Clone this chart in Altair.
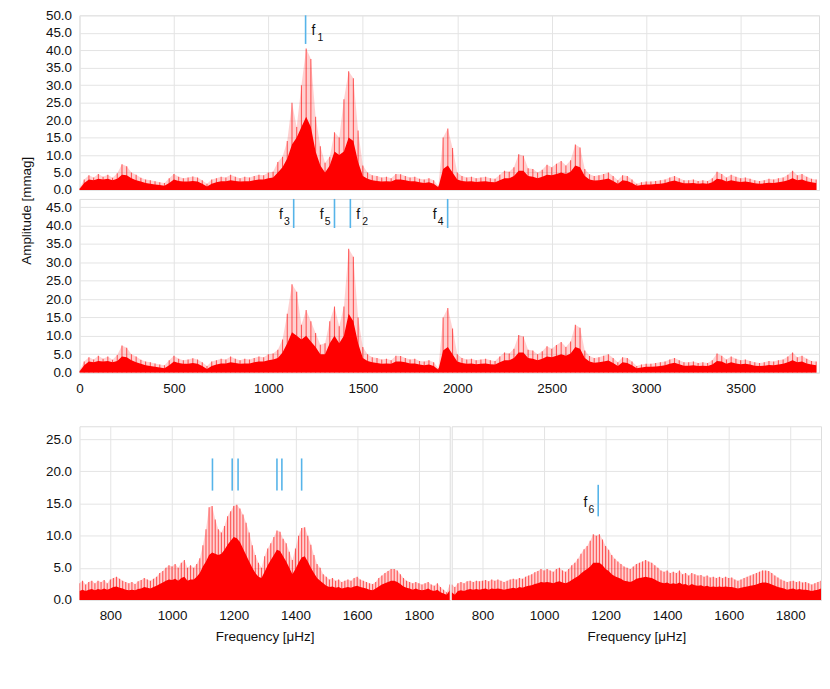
import altair as alt
import pandas as pd

FONT = "Liberation Sans"
RED = "#ff0000"
BLUE = "#56b4e9"

# ---------------- data: full spectrum (0-3900 uHz, 25 uHz step) ----------------
top_freq = list(range(0, 3901, 25))
top_peak = [
    0.5, 3.0, 4.2, 3.6, 4.6, 3.8, 4.4, 3.5,
    4.8, 7.4, 6.8, 5.0, 4.4, 3.5, 3.0, 2.8,
    2.5, 2.2, 2.0, 3.4, 4.6, 3.8, 3.4, 3.6,
    3.9, 3.6, 2.8, 1.8, 3.0, 3.4, 3.8, 3.6,
    4.4, 3.8, 3.4, 3.8, 3.6, 4.0, 4.4, 4.2,
    5.0, 5.2, 8.0, 9.5, 14.0, 25.0, 18.0, 30.0,
    40.5, 37.5, 21.0, 12.5, 7.8, 9.5, 16.5, 15.0,
    26.0, 34.0, 32.0, 17.0, 7.0, 5.0, 4.2, 4.0,
    3.6, 3.8, 3.4, 4.6, 4.5, 4.0, 3.6, 3.8,
    3.2, 3.0, 3.4, 2.8, 1.2, 15.0, 17.6, 12.0,
    5.0, 4.0, 3.6, 3.8, 3.4, 3.6, 3.8, 3.4,
    3.2, 4.4, 5.5, 5.2, 6.5, 10.2, 9.8, 6.2,
    6.0, 5.0, 5.8, 7.2, 6.5, 7.5, 8.3, 7.0,
    8.5, 13.0, 12.2, 6.0, 4.5, 4.0, 4.2, 4.6,
    5.0, 4.0, 2.8, 4.2, 4.0, 3.0, 1.8, 2.2,
    2.4, 2.4, 2.6, 2.8, 3.0, 3.6, 4.0, 3.4,
    2.8, 2.8, 3.0, 2.6, 2.8, 2.6, 3.4, 5.2,
    4.6, 3.6, 4.4, 3.8, 3.4, 3.6, 3.2, 2.8,
    2.6, 2.8, 3.2, 3.0, 3.4, 3.6, 4.4, 5.5,
    4.2, 4.6, 3.8, 3.2, 3.0,
]
top_body = [
    0.3, 2.0, 3.0, 2.8, 3.2, 3.0, 3.2, 2.8,
    3.2, 4.4, 4.2, 3.4, 2.8, 2.4, 2.0, 1.8,
    1.6, 1.4, 1.2, 2.0, 3.0, 2.6, 2.4, 2.4,
    2.6, 2.4, 1.8, 1.0, 1.8, 2.2, 2.5, 2.5,
    2.8, 2.6, 2.4, 2.5, 2.5, 2.8, 3.0, 3.0,
    3.4, 3.6, 5.0, 6.5, 9.0, 13.0, 15.0, 18.0,
    21.0, 18.0, 11.0, 7.0, 5.0, 7.0, 11.0, 10.0,
    11.0, 15.0, 14.0, 8.0, 4.0, 3.2, 2.8, 2.6,
    2.4, 2.5, 2.4, 3.0, 3.0, 2.8, 2.5, 2.5,
    2.2, 2.0, 2.2, 1.8, 0.8, 6.0, 7.0, 5.0,
    3.0, 2.6, 2.4, 2.5, 2.3, 2.4, 2.5, 2.3,
    2.2, 2.8, 3.4, 3.4, 4.0, 5.5, 5.5, 4.0,
    3.8, 3.4, 3.8, 4.4, 4.2, 4.6, 5.0, 4.6,
    5.2, 7.0, 6.5, 4.0, 3.0, 2.7, 2.8, 3.0,
    3.3, 2.6, 1.8, 2.8, 2.6, 2.0, 1.2, 1.4,
    1.6, 1.6, 1.7, 1.8, 2.0, 2.4, 2.7, 2.3,
    1.9, 1.9, 2.0, 1.8, 1.9, 1.8, 2.2, 3.2,
    3.0, 2.4, 2.8, 2.5, 2.3, 2.4, 2.2, 1.9,
    1.8, 1.9, 2.1, 2.0, 2.2, 2.4, 2.8, 3.4,
    2.8, 3.0, 2.5, 2.2, 2.0,
]
# prewhitened spectrum (f1 removed): differs from the top one between 1050 and 1500 uHz
mid_peak_section = [6.2, 9.0, 16.0, 24.0, 22.0, 13.0, 17.0, 14.0, 10.8, 7.6,
                    8.0, 14.0, 18.0, 12.6, 18.0, 33.7, 31.5, 15.0, 7.0]
mid_body_section = [4.0, 5.5, 8.0, 11.0, 10.0, 9.0, 10.0, 8.5, 7.0, 5.0,
                    5.0, 8.0, 10.0, 8.0, 10.0, 16.0, 14.0, 8.0, 4.0]
mid_peak = top_peak[:42] + mid_peak_section + top_peak[61:]
mid_body = top_body[:42] + mid_body_section + top_body[61:]

# ---------------- data: zoomed spectra (700-1900 uHz, 10 uHz step) ----------------
zoom_freq = list(range(700, 1901, 10))
left_peak = [
    2.6, 3.0, 2.4, 2.8, 3.0, 2.6, 3.0, 2.8, 3.1, 2.6,
    3.2, 3.4, 3.6, 3.3, 3.0, 2.8, 2.6, 2.8, 2.5, 2.9,
    3.1, 3.4, 3.2, 3.0, 3.3, 3.6, 4.2, 4.5, 5.0, 5.4,
    5.2, 5.6, 5.0, 5.8, 6.2, 5.0, 5.4, 5.0, 5.6, 6.5,
    8.5, 11.0, 14.4, 14.6, 12.5, 11.0, 10.5, 11.5, 13.0, 13.8,
    14.6, 14.8, 14.2, 13.3, 12.0, 10.5, 8.5, 7.0, 5.8, 5.0,
    6.8, 8.0, 8.8, 9.8, 10.8, 10.6, 9.5, 8.8, 7.5, 6.2,
    8.0, 10.0, 11.2, 11.3, 10.0, 8.6, 7.0, 5.6, 5.0, 4.0,
    3.6, 3.2, 3.4, 3.0, 3.2, 2.8, 3.0, 3.2, 3.0, 3.4,
    3.6, 3.2, 3.0, 2.8, 2.6, 2.5, 2.8, 3.4, 3.8, 4.2,
    4.5, 4.8, 4.8, 4.6, 4.0, 3.4, 3.0, 2.8, 2.6, 2.8,
    2.6, 2.4, 2.6, 2.8, 2.4, 2.2, 2.6, 2.0, 1.6, 1.2, 2.4,
]
left_body = [
    1.4, 1.6, 1.4, 1.6, 1.7, 1.5, 1.7, 1.6, 1.8, 1.6,
    1.8, 2.0, 2.1, 1.9, 1.8, 1.6, 1.5, 1.6, 1.5, 1.7,
    1.8, 2.0, 1.9, 1.8, 2.0, 2.2, 2.5, 2.7, 3.0, 3.2,
    3.1, 3.3, 3.0, 3.4, 3.6, 3.0, 3.2, 3.2, 3.6, 4.2,
    5.2, 6.0, 7.0, 7.4, 7.2, 7.0, 7.2, 7.8, 8.6, 9.2,
    9.8, 9.6, 9.0, 8.0, 7.0, 6.0, 5.0, 4.2, 3.6, 3.4,
    4.4, 5.4, 6.2, 7.0, 7.8, 7.6, 6.8, 6.0, 5.0, 4.0,
    4.8, 5.8, 6.6, 6.8, 6.0, 5.0, 4.2, 3.4, 3.0, 2.6,
    2.2, 2.0, 2.1, 1.9, 2.0, 1.8, 1.9, 2.0, 1.9, 2.1,
    2.2, 2.0, 1.9, 1.8, 1.6, 1.5, 1.8, 2.1, 2.4, 2.6,
    2.8, 3.0, 3.0, 2.8, 2.5, 2.1, 1.9, 1.8, 1.6, 1.8,
    1.6, 1.5, 1.6, 1.8, 1.5, 1.4, 1.6, 1.2, 1.0, 0.8, 1.5,
]
right_peak = [
    2.4, 2.0, 2.6, 2.8, 2.6, 2.9, 3.0, 2.8, 3.0, 2.9,
    3.0, 3.1, 2.9, 3.2, 3.0, 3.2, 3.0, 2.8, 3.0, 3.2,
    3.3, 3.2, 3.4, 3.3, 3.6, 3.8, 4.0, 4.3, 4.5, 4.8,
    4.6, 4.8, 4.6, 4.4, 4.8, 5.0, 4.6, 4.4, 4.8, 5.4,
    5.8, 6.4, 7.2, 7.9, 8.4, 9.2, 10.2, 10.0, 10.2, 9.4,
    8.4, 7.8, 7.0, 6.4, 6.0, 5.6, 5.2, 5.0, 4.8, 5.2,
    5.6, 5.8, 6.0, 6.2, 6.0, 5.8, 5.4, 5.0, 4.6, 4.4,
    4.6, 4.2, 4.4, 4.2, 4.6, 4.0, 4.2, 3.8, 4.2, 4.0,
    3.8, 3.9, 3.6, 3.8, 3.5, 3.6, 3.4, 3.6, 3.4, 3.6,
    3.4, 3.5, 3.2, 3.0, 3.2, 3.4, 3.6, 3.8, 4.0, 4.2,
    4.4, 4.6, 4.6, 4.5, 4.2, 3.8, 3.5, 3.2, 3.0, 2.8,
    2.9, 3.0, 2.8, 2.9, 2.7, 2.8, 2.6, 2.4, 2.6, 2.8, 3.0,
]
right_body = [
    1.2, 0.8, 1.4, 1.5, 1.4, 1.6, 1.7, 1.6, 1.7, 1.6,
    1.7, 1.8, 1.6, 1.8, 1.7, 1.8, 1.7, 1.6, 1.7, 1.8,
    1.9, 1.8, 2.0, 1.9, 2.1, 2.2, 2.3, 2.5, 2.6, 2.8,
    2.7, 2.8, 2.7, 2.6, 2.8, 2.9, 2.7, 2.6, 2.8, 3.1,
    3.4, 3.7, 4.1, 4.5, 4.8, 5.2, 5.8, 5.8, 5.8, 5.4,
    4.8, 4.5, 4.0, 3.7, 3.5, 3.3, 3.0, 2.9, 2.8, 3.0,
    3.3, 3.4, 3.5, 3.6, 3.5, 3.4, 3.2, 2.9, 2.7, 2.6,
    2.7, 2.5, 2.6, 2.5, 2.7, 2.4, 2.5, 2.2, 2.5, 2.3,
    2.2, 2.3, 2.1, 2.2, 2.0, 2.1, 2.0, 2.1, 2.0, 2.1,
    2.0, 2.0, 1.9, 1.8, 1.9, 2.0, 2.1, 2.2, 2.3, 2.4,
    2.6, 2.7, 2.7, 2.6, 2.4, 2.2, 2.0, 1.9, 1.8, 1.6,
    1.7, 1.8, 1.6, 1.7, 1.6, 1.6, 1.5, 1.4, 1.5, 1.6, 1.8,
]

# ---------------- data: frequency markers ----------------
top_mark_freq = [1197]
top_mark_sub = ["1"]
top_mark_side = ["right"]
top_mark_lo, top_mark_hi = [41.8], [50.0]

mid_mark_freq = [1134, 1350, 1434, 1949]
mid_mark_sub = ["3", "5", "2", "4"]
mid_mark_side = ["left", "left", "right", "left"]
mid_mark_lo, mid_mark_hi = [39.3] * 4, [47.2] * 4

left_mark_freq = [1131, 1195, 1214, 1340, 1356, 1420]
left_mark_lo, left_mark_hi = [17.0] * 6, [22.0] * 6

right_mark_freq = [1176]
right_mark_sub = ["6"]
right_mark_side = ["left"]
right_mark_lo, right_mark_hi = [13.0], [17.9]

LABEL_SIZE = 13.5


def spec_df(freq, peak, body):
    assert len(freq) == len(peak) == len(body), (len(freq), len(peak), len(body))
    return pd.DataFrame({"freq": freq, "peak": peak, "body": body})


def mark_df(freq, lo, hi, sub=None, side=None):
    d = pd.DataFrame({"freq": freq, "lo": lo, "hi": hi})
    d["sub"] = sub if sub is not None else [""] * len(freq)
    d["side"] = side if side is not None else ["none"] * len(freq)
    return d


def panel(spec, marks, xdom, ydom, xvals, yvals, w, h, xlabels, ylabels, xtitle=None):
    xaxis = alt.Axis(values=xvals, labels=xlabels, ticks=False, domain=False,
                     grid=True, labelPadding=9, title=xtitle, format="d",
                     labelFont=FONT, labelFontSize=LABEL_SIZE, labelColor="#111",
                     titleFont=FONT, titleColor="#111",
                     titleFontWeight="normal", titleFontSize=LABEL_SIZE,
                     titlePadding=7, labelFlush=False, labelOverlap=False,
                     gridColor="#e4e4e4")
    yaxis = alt.Axis(values=yvals, labels=ylabels, ticks=False, domain=False,
                     grid=True, format=".1f", labelPadding=8, labelOverlap=False,
                     labelFont=FONT, labelFontSize=LABEL_SIZE, labelColor="#111",
                     title=None, gridColor="#e4e4e4", labelFlush=False)
    xs = alt.Scale(domain=xdom, nice=False, zero=False)
    ys = alt.Scale(domain=ydom, nice=False)

    def X(f):
        return alt.X(f, scale=xs, axis=xaxis)

    def Y(f):
        return alt.Y(f, scale=ys, axis=yaxis)

    base = alt.Chart(spec)
    haze = base.mark_area(color=RED, opacity=0.18, clip=True).encode(
        x=X("freq:Q"), y=Y("peak:Q"))
    spikes = base.mark_rule(color=RED, strokeWidth=1.1, opacity=0.6, clip=True).encode(
        x=X("freq:Q"), y=Y("peak:Q"), y2=alt.value(h))
    body = base.mark_area(color=RED, opacity=1, clip=True).encode(
        x=X("freq:Q"), y=Y("body:Q"))

    mb = alt.Chart(marks)
    rules = mb.mark_rule(color=BLUE, strokeWidth=1.6).encode(
        x=X("freq:Q"), y=Y("lo:Q"), y2="hi:Q")
    layers = [haze, spikes, body, rules]
    for side, fdx, sdx, al in [("left", -11, -4, "right"), ("right", 6, 12, "left")]:
        fl = mb.transform_filter(alt.datum.side == side)
        layers.append(fl.mark_text(text="f", font=FONT, fontSize=14, dx=fdx, dy=-13,
                                   align=al, baseline="middle", color="#111").encode(
            x=X("freq:Q"), y=Y("lo:Q")))
        layers.append(fl.mark_text(font=FONT, fontSize=10.5, dx=sdx, dy=-6,
                                   align=al, baseline="middle", color="#111").encode(
            x=X("freq:Q"), y=Y("lo:Q"), text="sub:N"))
    return alt.layer(*layers).properties(width=w, height=h)


top_x = list(range(0, 3901, 500))
zoom_x = list(range(800, 1801, 200))

top = panel(spec_df(top_freq, top_peak, top_body),
            mark_df(top_mark_freq, top_mark_lo, top_mark_hi, top_mark_sub, top_mark_side),
            [0, 3915], [0, 50], top_x, [i * 5 for i in range(11)], 745, 176,
            False, True)
mid = panel(spec_df(top_freq, mid_peak, mid_body),
            mark_df(mid_mark_freq, mid_mark_lo, mid_mark_hi, mid_mark_sub, mid_mark_side),
            [0, 3915], [0, 47.2], top_x, [i * 5 for i in range(10)], 745, 175,
            True, True)
left = panel(spec_df(zoom_freq, left_peak, left_body),
             mark_df(left_mark_freq, left_mark_lo, left_mark_hi),
             [700, 1900], [0, 27], zoom_x, [i * 5 for i in range(6)], 373, 175,
             True, True, xtitle="Frequency [μHz]")
right = panel(spec_df(zoom_freq, right_peak, right_body),
              mark_df(right_mark_freq, right_mark_lo, right_mark_hi, right_mark_sub, right_mark_side),
              [700, 1900], [0, 27], zoom_x, [i * 5 for i in range(6)], 372, 175,
              True, False, xtitle="Frequency [μHz]")

# rotated title: its dx runs along the (rotated) text, i.e. vertically on screen
chart = alt.vconcat(
    alt.vconcat(top, mid, spacing=0),
    alt.hconcat(left, right, spacing=0),
    spacing=30,
).properties(
    title=alt.TitleParams(
        "Amplitude [mmag]", orient="left", anchor="end", dx=-150, offset=12,
        font=FONT, fontSize=LABEL_SIZE, fontWeight="normal", color="#111",
    ),
    padding={"left": 11, "top": -3, "right": 0, "bottom": 0},
).configure_view(stroke="#444", strokeWidth=1).configure(background="white")

chart.save("out.html", embed_options={"renderer": "svg", "actions": False})
